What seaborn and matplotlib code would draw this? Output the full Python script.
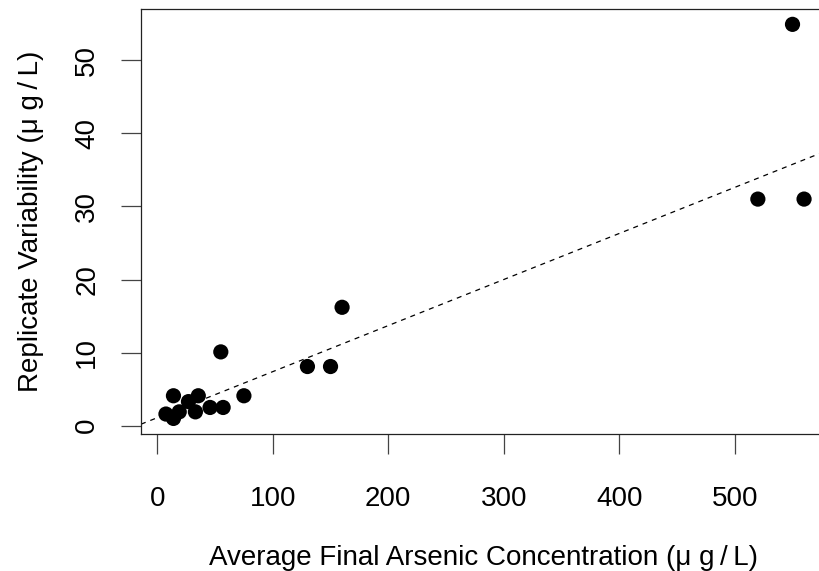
import pandas as pd
import seaborn as sns
import matplotlib
matplotlib.use("Agg")
import matplotlib.pyplot as plt

# values
avg_conc = [7.5, 14, 14, 19, 27, 33, 35.5, 45.7, 55, 57, 75, 130, 150, 160, 520, 550, 560]
variability = [1.6, 1.0, 4.1, 1.9, 3.3, 1.9, 4.1, 2.5, 10.1, 2.5, 4.1, 8.1, 8.1, 16.2, 31.0, 54.9, 31.0]
fit_intercept = 1.1
fit_slope = 0.063
x_ticks = [0, 100, 200, 300, 400, 500]
y_ticks = [0, 10, 20, 30, 40, 50]

df = pd.DataFrame({"conc": avg_conc, "var": variability})

sns.set_style("ticks")
plt.rcParams["font.family"] = ["Liberation Sans", "DejaVu Sans"]
plt.rcParams["text.color"] = "black"
plt.rcParams["axes.labelcolor"] = "black"
plt.rcParams["xtick.labelcolor"] = "black"
plt.rcParams["ytick.labelcolor"] = "black"

fig = plt.figure(figsize=(8.2, 5.71), dpi=100)
ax = fig.add_axes([141 / 820, 1 - 434 / 571, (826 - 141) / 820, (434 - 9) / 571])

sns.scatterplot(data=df, x="conc", y="var", ax=ax, color="black",
                s=120, edgecolor="none", zorder=3)
ax.axline((0, fit_intercept), slope=fit_slope, color="black", lw=0.9,
          linestyle=(0, (4, 4)))

ax.set_xlim(-14.1, 579)
ax.set_ylim(-1.13, 57.0)
ax.set_xticks(x_ticks)
ax.set_yticks(y_ticks)
ax.tick_params(labelsize=20, length=14.4, width=0.9, color="#444444")
ax.tick_params(axis="x", pad=23)
ax.tick_params(axis="y", pad=15)
for lab in ax.get_yticklabels():
    lab.set_rotation(90)
    lab.set_va("center")
for sp in ax.spines.values():
    sp.set_visible(True)
    sp.set_linewidth(0.9)
    sp.set_color("#222222")

ax.set_xlabel("Average Final Arsenic Concentration (μ g\u2009/\u2009L)", fontsize=20, labelpad=24)
ax.set_ylabel("Replicate Variability (μ g\u2009/\u2009L)", fontsize=20, labelpad=22)

fig.savefig("out.png", dpi=100)
